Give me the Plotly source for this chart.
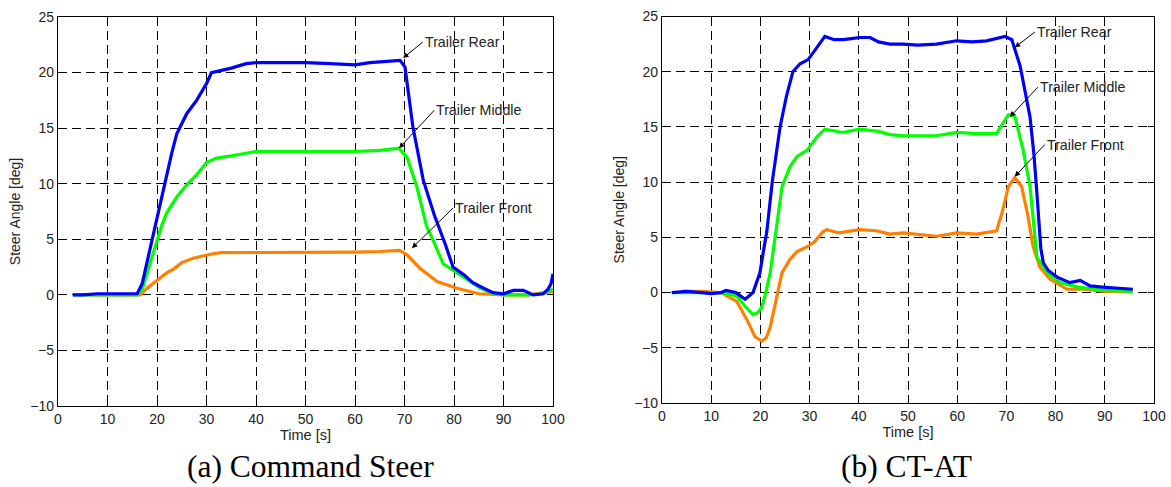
import plotly.graph_objects as go

# ---------------- data: (a) Command Steer ----------------
a_rear_t = [3, 5, 8, 10, 14, 16, 17, 18, 19, 20, 21, 22, 23, 24, 26, 28, 30, 31, 33, 35, 38, 40, 45, 50, 55, 60, 63, 66, 69.1, 70.1, 71.7, 73.8, 76, 78.2, 79.8, 82, 83.8, 86, 87.9, 90, 92, 94, 96, 98, 99, 99.6, 100]
a_rear_v = [0, 0, 0.1, 0.1, 0.1, 0.1, 1, 3, 5, 7, 9, 11, 12.8, 14.5, 16.3, 17.5, 19, 20, 20.2, 20.4, 20.8, 20.9, 20.9, 20.9, 20.8, 20.7, 20.9, 21.0, 21.1, 20.5, 15.1, 10.3, 7.2, 4.6, 2.5, 1.8, 1.1, 0.6, 0.2, 0.1, 0.4, 0.4, 0.0, 0.1, 0.5, 1.0, 1.9]

a_mid_t = [3, 10, 16, 17, 18, 19, 20, 21, 22, 24, 26, 28, 30, 32, 35, 40, 50, 60, 65, 68.8, 70.5, 72.5, 74.5, 75.5, 77.8, 81.2, 85.3, 88, 90, 95, 98, 100]
a_mid_v = [0, 0, 0, 0.5, 2, 3.5, 5, 6.3, 7.4, 8.8, 9.9, 10.8, 11.9, 12.3, 12.5, 12.9, 12.9, 12.9, 13.0, 13.2, 12.4, 9.7, 6.1, 5.2, 2.8, 1.8, 0.6, 0.1, 0.0, 0.0, 0.1, 0.5]

a_front_t = [5, 10, 16.6, 18, 20, 22, 23.3, 25, 27.3, 29, 31.3, 33, 35, 40, 50, 60, 65, 69, 70.5, 73.1, 76.6, 80.6, 85, 90, 95, 100]
a_front_v = [0, 0, 0, 0.6, 1.3, 2.0, 2.3, 2.9, 3.3, 3.5, 3.7, 3.8, 3.8, 3.8, 3.85, 3.85, 3.9, 4.0, 3.6, 2.4, 1.2, 0.6, 0.1, 0.0, 0.0, 0.3]

# ---------------- data: (b) CT-AT ----------------
b_rear_t = [2, 5, 8, 10, 12, 13, 15, 16.9, 18.5, 19.9, 20.9, 21.3, 22.4, 24, 25.3, 26.6, 28, 29.7, 31.5, 33.1, 35, 36.8, 38.5, 40.2, 42.3, 44, 46.3, 49, 52, 55.8, 59.9, 63, 66, 69.7, 71.1, 72.8, 74.8, 75.6, 76.2, 76.6, 77, 77.5, 78.5, 80.3, 82.9, 85, 87, 89.5, 92, 95.7]
b_rear_v = [0, 0.1, 0, -0.1, 0, 0.2, 0, -0.6, 0, 1.8, 4.5, 5.5, 10, 15, 17.8, 20, 20.7, 21.1, 22.2, 23.2, 22.9, 22.9, 23.0, 23.1, 23.1, 22.7, 22.5, 22.5, 22.4, 22.5, 22.8, 22.7, 22.8, 23.2, 22.9, 20.5, 15.9, 12.5, 9.0, 6.0, 4.0, 2.7, 2.0, 1.4, 0.9, 1.1, 0.6, 0.5, 0.4, 0.3]

b_mid_t = [2, 8, 12, 15.2, 17, 18.5, 19.5, 20.3, 21, 22, 23, 24.4, 26, 27.4, 29.5, 31.5, 33.1, 36.7, 40.2, 44, 46.3, 49, 55.8, 59.9, 64, 68, 69.4, 70.4, 71.7, 73.4, 74.8, 75.8, 76.2, 78.3, 80.9, 84.6, 90, 95.7]
b_mid_v = [0, 0, 0, -0.3, -1.3, -2.0, -1.8, -1.3, -0.2, 1.8, 5.0, 9.6, 11.4, 12.3, 12.9, 14.1, 14.8, 14.5, 14.8, 14.6, 14.3, 14.2, 14.2, 14.5, 14.4, 14.4, 15.4, 16.1, 16.0, 12.9, 9.6, 5.4, 3.2, 1.8, 0.9, 0.5, 0.2, 0.1]

b_front_t = [4, 8, 12, 15.2, 17.3, 18.9, 20.3, 21.2, 22, 23.3, 24.4, 26, 27.4, 29.7, 31, 32.7, 33.5, 36, 40.2, 43.6, 46.3, 49, 55.8, 59.9, 64, 68, 69.1, 70.4, 71.7, 73.1, 74.4, 75.4, 76.8, 78.9, 82.3, 86, 90, 95.7]
b_front_v = [0.1, 0.1, 0, -0.8, -2.5, -4.0, -4.4, -4.1, -3.1, -0.4, 1.8, 3.0, 3.7, 4.2, 4.6, 5.5, 5.7, 5.4, 5.7, 5.6, 5.3, 5.4, 5.1, 5.4, 5.3, 5.6, 7.2, 9.6, 10.4, 9.6, 6.9, 4.2, 2.3, 1.2, 0.3, 0.3, 0.1, 0.1]

x_ticks = [0, 10, 20, 30, 40, 50, 60, 70, 80, 90, 100]
y_ticks = [-10, -5, 0, 5, 10, 15, 20, 25]
captions = ["(a) Command Steer", "(b) CT-AT"]
labels = ["Trailer Rear", "Trailer Middle", "Trailer Front"]
x_title = "Time [s]"
y_title = "Steer Angle [deg]"

# annotation anchor points (tail, head) in data coords
a_ann = [((73.7, 22.75), (69.7, 21.3)), ((76.0, 16.6), (68.9, 13.2)), ((79.8, 7.8), (71.5, 4.2))]
b_ann = [((75.8, 23.6), (71.7, 22.2)), ((76.4, 18.6), (70.7, 15.9)), ((77.8, 13.4), (71.7, 10.5))]

BLUE = "#0000ff"
GREEN = "#00ff00"
ORANGE = "#ff8000"
FONT = "Liberation Sans, Arial, sans-serif"

fig = go.Figure()

def add_series(t, v, color, xa, ya):
    fig.add_trace(go.Scatter(x=t, y=v, mode="lines", line=dict(color=color, width=3.2),
                             xaxis=xa, yaxis=ya, showlegend=False, hoverinfo="skip"))

add_series(a_front_t, a_front_v, ORANGE, "x", "y")
add_series(a_mid_t, a_mid_v, GREEN, "x", "y")
add_series(a_rear_t, a_rear_v, BLUE, "x", "y")
add_series(b_front_t, b_front_v, ORANGE, "x2", "y2")
add_series(b_mid_t, b_mid_v, GREEN, "x2", "y2")
add_series(b_rear_t, b_rear_v, BLUE, "x2", "y2")

W, H = 1171, 487
GRID_DASH = "9px,5px"

def xaxis(dom, anchor):
    return dict(domain=dom, range=[0, 100], tickvals=x_ticks, ticks="inside", ticklen=6,
                tickcolor="black", showline=True, linecolor="black", linewidth=1.3, mirror="ticks",
                showgrid=True, gridcolor="black", griddash=GRID_DASH, gridwidth=1.2, zeroline=False,
                automargin=False, anchor=anchor,
                tickfont=dict(family=FONT, size=14, color="#222"),
                title=dict(text=x_title, font=dict(family=FONT, size=14.5, color="#222"), standoff=3))

def yaxis(dom, anchor):
    return dict(domain=dom, range=[-10, 25], tickvals=y_ticks, ticks="inside", ticklen=6,
                tickcolor="black", showline=True, linecolor="black", linewidth=1.3, mirror="ticks",
                showgrid=True, gridcolor="black", griddash=GRID_DASH, gridwidth=1.2, zeroline=False,
                automargin=False, anchor=anchor,
                tickfont=dict(family=FONT, size=14, color="#222"),
                title=dict(text=y_title, font=dict(family=FONT, size=14, color="#222"), standoff=6))

annotations = []
for (xr, yr, anns) in (("x", "y", a_ann), ("x2", "y2", b_ann)):
    for lab, (tail, head) in zip(labels, anns):
        annotations.append(dict(x=head[0], y=head[1], xref=xr, yref=yr,
                                ax=tail[0], ay=tail[1], axref=xr, ayref=yr,
                                text=lab, showarrow=True, arrowhead=2, arrowsize=1.1,
                                arrowwidth=1, arrowcolor="black", xanchor="left", yanchor="middle",
                                font=dict(family=FONT, size=14.2, color="#222")))

for cap, cx in zip(captions, [0.265, 0.774]):
    annotations.append(dict(x=cx, y=1 - 466 / H, xref="paper", yref="paper", text=cap,
                            showarrow=False, xanchor="center", yanchor="middle",
                            font=dict(family="Liberation Serif, Times New Roman, serif", size=31.5, color="black")))

fig.update_layout(
    width=W, height=H, margin=dict(l=0, r=0, t=0, b=0, autoexpand=False),
    paper_bgcolor="white", plot_bgcolor="white",
    xaxis=xaxis([58 / W, 553 / W], "y"),
    yaxis=yaxis([1 - 406 / H, 1 - 17 / H], "x"),
    xaxis2=xaxis([662 / W, 1154 / W], "y2"),
    yaxis2=yaxis([1 - 403 / H, 1 - 16.5 / H], "x2"),
    annotations=annotations,
)

fig.write_html("out.html", config={"displayModeBar": False},
               post_script="document.body.style.margin='0';document.body.style.overflow='hidden';")
